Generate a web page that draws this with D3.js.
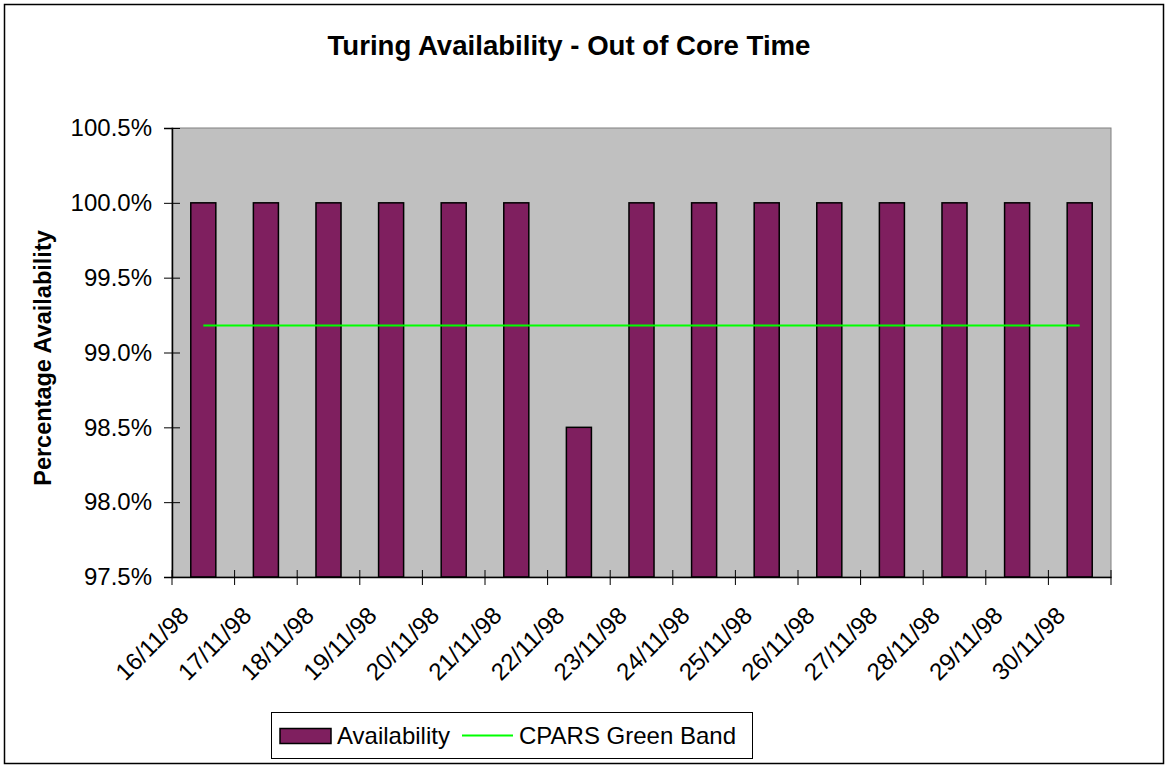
<!DOCTYPE html>
<html>
<head>
<meta charset="utf-8">
<script src="https://cdn.jsdelivr.net/npm/d3@7"></script>
<style>
  html, body { margin: 0; padding: 0; background: #fff; }
  svg { display: block; font-family: "Liberation Sans", Arial, sans-serif; }
</style>
</head>
<body>
<svg id="chart" width="1168" height="765"></svg>
<script>
// Daily availability, 16–30 November 1998
const categories = ["16/11/98","17/11/98","18/11/98","19/11/98","20/11/98","21/11/98","22/11/98",
  "23/11/98","24/11/98","25/11/98","26/11/98","27/11/98","28/11/98","29/11/98","30/11/98"];
const availability = [100.0,100.0,100.0,100.0,100.0,100.0,98.5,100.0,100.0,100.0,100.0,100.0,100.0,100.0,100.0];
const greenBand = [99.18,99.18,99.18,99.18,99.18,99.18,99.18,99.18,99.18,99.18,99.18,99.18,99.18,99.18,99.18];
const yTicks = [97.5, 98.0, 98.5, 99.0, 99.5, 100.0, 100.5];

const svg = d3.select("#chart");
const W = 1168, H = 765;
const plot = { left: 172, right: 1111, top: 128, bottom: 577 };
const FONT = "Liberation Sans, Arial, sans-serif";

// outer chart frame
svg.append("rect")
  .attr("x", 4.5).attr("y", 4.5)
  .attr("width", W - 9).attr("height", H - 6)
  .attr("fill", "#fff").attr("stroke", "#000").attr("stroke-width", 1.5);

// title
svg.append("text")
  .attr("x", 569).attr("y", 55)
  .attr("text-anchor", "middle")
  .attr("font-size", 27.6).attr("font-weight", "bold")
  .text("Turing Availability - Out of Core Time");

const x = d3.scaleBand()
  .domain(categories)
  .range([plot.left, plot.right])
  .paddingInner(0.6).paddingOuter(0.3);

const y = d3.scaleLinear()
  .domain([97.5, 100.5])
  .range([plot.bottom, plot.top]);

// plot area background
svg.append("rect")
  .attr("x", plot.left).attr("y", plot.top)
  .attr("width", plot.right - plot.left).attr("height", plot.bottom - plot.top)
  .attr("fill", "#c0c0c0").attr("stroke", "#808080").attr("stroke-width", 1);

// bars
svg.append("g").selectAll("rect")
  .data(availability)
  .join("rect")
  .attr("x", (d, i) => x(categories[i]))
  .attr("y", d => y(d))
  .attr("width", x.bandwidth())
  .attr("height", d => y(97.5) - y(d))
  .attr("fill", "#7f1f5f")
  .attr("stroke", "#000").attr("stroke-width", 1.5);

// CPARS green band line, category centre to category centre
const line = d3.line()
  .x((d, i) => x(categories[i]) + x.bandwidth() / 2)
  .y(d => y(d));
svg.append("path")
  .datum(greenBand)
  .attr("d", line)
  .attr("fill", "none")
  .attr("stroke", "#00ff00").attr("stroke-width", 2);

// y axis
const yAxis = svg.append("g")
  .attr("transform", `translate(${plot.left},0)`)
  .call(d3.axisLeft(y).tickValues(yTicks).tickFormat(d => d.toFixed(1) + "%").tickSize(8).tickPadding(12));
yAxis.select(".domain").attr("stroke", "#000").attr("stroke-width", 1.5);
yAxis.selectAll(".tick line").attr("x1", -8).attr("x2", 8).attr("stroke", "#000");
yAxis.selectAll(".tick text")
  .attr("font-size", 24).attr("font-family", FONT).attr("fill", "#000");

// x axis: labels at category centres
const xAxis = svg.append("g")
  .attr("transform", `translate(0,${plot.bottom})`)
  .call(d3.axisBottom(x).tickSize(0));
xAxis.select(".domain").attr("stroke", "#000").attr("stroke-width", 1.5);
xAxis.selectAll(".tick text")
  .attr("font-size", 24).attr("font-family", FONT).attr("fill", "#000")
  .attr("text-anchor", "end")
  .attr("x", 0).attr("y", 0).attr("dy", 0)
  .attr("transform", "translate(-13,40) rotate(-45)");

// x tick marks at category boundaries
const boundaries = d3.range(categories.length + 1).map(i => plot.left + i * x.step());
svg.append("g").selectAll("line")
  .data(boundaries)
  .join("line")
  .attr("x1", d => d).attr("x2", d => d)
  .attr("y1", plot.bottom - 7).attr("y2", plot.bottom + 8)
  .attr("stroke", "#000").attr("stroke-width", 1);

// y axis title
svg.append("text")
  .attr("transform", "translate(51,358) rotate(-90)")
  .attr("text-anchor", "middle")
  .attr("font-size", 23.5).attr("font-weight", "bold")
  .text("Percentage Availability");

// legend
const lg = svg.append("g");
lg.append("rect")
  .attr("x", 271.5).attr("y", 712.5).attr("width", 481).attr("height", 46)
  .attr("fill", "#fff").attr("stroke", "#000").attr("stroke-width", 1);
lg.append("rect")
  .attr("x", 280).attr("y", 728.5).attr("width", 51).attr("height", 15)
  .attr("fill", "#7f1f5f").attr("stroke", "#000").attr("stroke-width", 1.5);
lg.append("text")
  .attr("x", 337).attr("y", 744)
  .attr("font-size", 24)
  .text("Availability");
lg.append("line")
  .attr("x1", 462).attr("x2", 513).attr("y1", 735.5).attr("y2", 735.5)
  .attr("stroke", "#00ff00").attr("stroke-width", 2);
lg.append("text")
  .attr("x", 519).attr("y", 744)
  .attr("font-size", 24)
  .text("CPARS Green Band");
</script>
</body>
</html>
